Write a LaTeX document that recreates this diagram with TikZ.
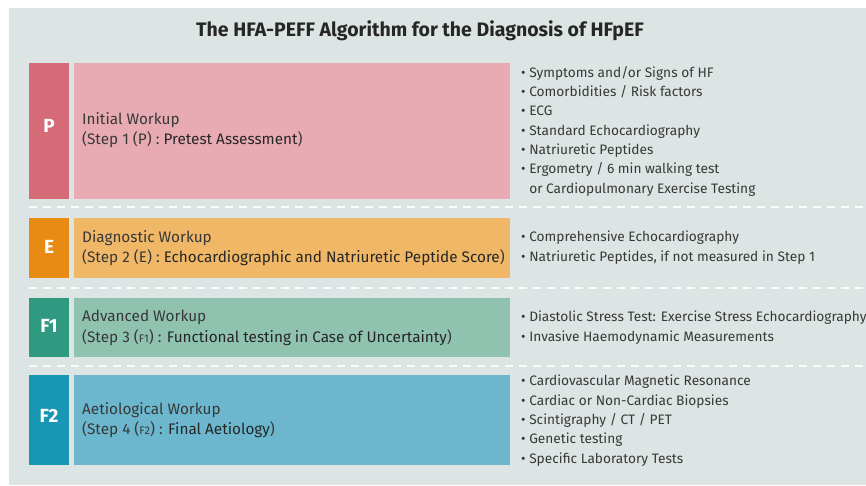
\documentclass[tikz,border=0pt]{standalone}
\usepackage{fontspec}
\setmainfont{Fira Sans}
\definecolor{panel}{HTML}{DDE5E4}
\definecolor{txt}{HTML}{383838}
\definecolor{txtd}{HTML}{262626}
\definecolor{pdark}{HTML}{D46B77}
\definecolor{plight}{HTML}{E8ABB3}
\definecolor{edark}{HTML}{E88B14}
\definecolor{elight}{HTML}{F0B767}
\definecolor{fadark}{HTML}{2F9A7F}
\definecolor{falight}{HTML}{90C3AF}
\definecolor{fbdark}{HTML}{1896B3}
\definecolor{fblight}{HTML}{6CB7CE}
\tikzset{
  letterbox/.style={minimum width=40pt, inner sep=0pt},
  lettertext/.style={text=white, inner sep=0pt, font=\fontsize{19}{21}\selectfont\bfseries},
  mainbox/.style={minimum width=436pt, inner sep=0pt},
  maintext/.style={anchor=west, align=left, inner sep=0pt, text=txt, font=\fontsize{15.3}{20.5}\selectfont},
  listtext/.style={anchor=north west, align=left, inner sep=0pt, text=txt, font=\fontsize{13.7}{19.3}\selectfont},
  sep/.style={draw=white!90!panel, line width=1.2pt, dash pattern=on 8pt off 6pt},
}
\newcommand{\dk}[1]{\textcolor{txtd}{#1}}
\newcommand{\sm}[1]{{\fontsize{11}{12}\selectfont #1}}
\begin{document}
\begin{tikzpicture}[x=1pt,y=-1pt]
\useasboundingbox (0,0) rectangle (866,486);
\fill[white] (0,0) rectangle (866,486);
\fill[panel] (9,8) rectangle (866,485);
\node[text=txtd, font=\fontsize{19.5}{21}\selectfont\bfseries] (title) at (420,31) {The HFA-PEFF Algorithm for the Diagnosis of HFpEF};

% P
\node[letterbox, fill=pdark, minimum height=136pt] (pl) at (49,131) {};
\node[lettertext] (plt) at (49,126) {P};
\node[mainbox, fill=plight, minimum height=136pt] (pm) at (292,131) {};
\node[maintext] (pt) at (82,130) {Initial Workup\\(Step 1 (P) : \dk{Pretest Assessment})};
\node[listtext] (plist) at (521,66) {• Symptoms and/or Signs of HF\\• Comorbidities / Risk factors\\• ECG\\• Standard Echocardiography\\• Natriuretic Peptides\\• Ergometry / 6 min walking test\\\phantom{• }or Cardiopulmonary Exercise Testing};

\coordinate (s1a) at (29,207);
\coordinate (s1b) at (866,207);
\draw[sep] (s1a) -- (s1b);

% E
\node[letterbox, fill=edark, minimum height=60pt] (el) at (49,248) {};
\node[lettertext] (elt) at (49,247) {E};
\node[mainbox, fill=elight, minimum height=60pt] (em) at (292,248) {};
\node[maintext] (et) at (82,248) {Diagnostic Workup\\(Step 2 (E) : \dk{Echocardiographic and Natriuretic Peptide Score})};
\node[listtext] (elist) at (521,231) {• Comprehensive Echocardiography\\• Natriuretic Peptides, if not measured in Step 1};

\coordinate (s2a) at (29,288);
\coordinate (s2b) at (866,288);
\draw[sep] (s2a) -- (s2b);

% F1
\node[letterbox, fill=fadark, minimum height=59pt] (fal) at (49,327.5) {};
\node[lettertext] (falt) at (49,326) {F1};
\node[mainbox, fill=falight, minimum height=59pt] (fam) at (292,327.5) {};
\node[maintext] (fat) at (82,328) {Advanced Workup\\(Step 3 (\sm{F1}) : \dk{Functional testing in Case of Uncertainty})};
\node[listtext] (falist) at (521,311) {• Diastolic Stress Test: Exercise Stress Echocardiography\\• Invasive Haemodynamic Measurements};

\coordinate (s3a) at (29,366);
\coordinate (s3b) at (866,366);
\draw[sep] (s3a) -- (s3b);

% F2
\node[letterbox, fill=fbdark, minimum height=90pt] (fbl) at (49,420) {};
\node[lettertext] (fblt) at (49,416) {F2};
\node[mainbox, fill=fblight, minimum height=90pt] (fbm) at (292,420) {};
\node[maintext] (fbt) at (82,420) {Aetiological Workup\\(Step 4 (\sm{F2}) : \dk{Final Aetiology})};
\node[listtext] (fblist) at (521,375) {• Cardiovascular Magnetic Resonance\\• Cardiac or Non-Cardiac Biopsies\\• Scintigraphy / CT / PET\\• Genetic testing\\• Specific Laboratory Tests};
\end{tikzpicture}
\end{document}
